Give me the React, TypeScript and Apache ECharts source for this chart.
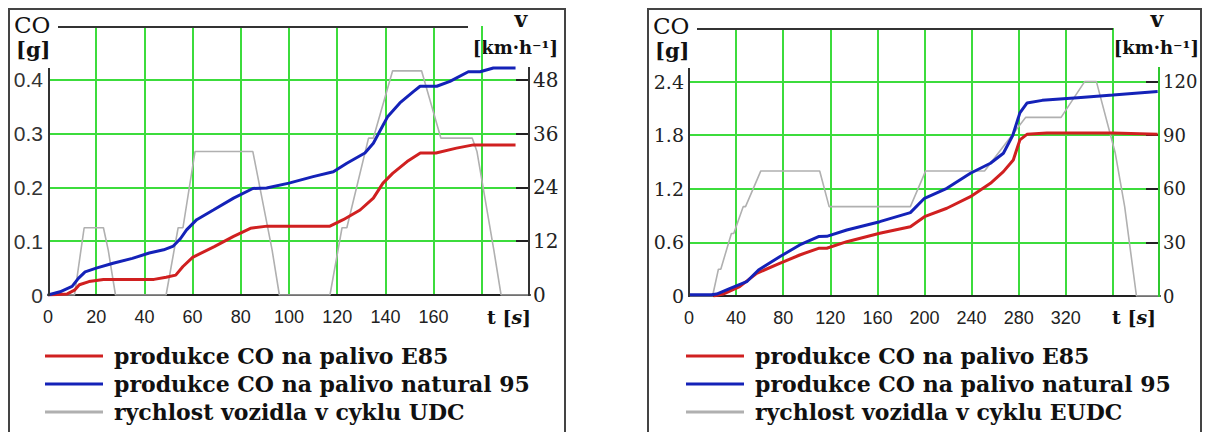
import React, { useEffect, useRef } from "react";
import * as echarts from "echarts";

// ---------- data: UDC (left chart) ----------
const udcTime = [0, 11, 15, 23, 25, 28, 49, 54, 56, 61, 85, 93, 96, 117, 122, 124, 133, 135, 143, 155, 163, 176, 178, 185, 188, 200];
const udcSpeed = [0, 0, 15, 15, 10, 0, 0, 15, 15, 32, 32, 10, 0, 0, 15, 15, 35, 35, 50, 50, 35, 35, 32, 10, 0, 0];

const udcE85Time = [0, 8, 11, 13, 17, 23, 30, 44, 49, 53, 56, 60, 69, 77, 84, 91, 117, 122.5, 129.5, 135, 139, 143, 149, 154.5, 161, 169.5, 176.5, 194];
const udcE85CO = [0, 0.002, 0.009, 0.019, 0.025, 0.029, 0.029, 0.029, 0.033, 0.037, 0.053, 0.07, 0.09, 0.109, 0.124, 0.128, 0.128, 0.14, 0.158, 0.18, 0.208, 0.226, 0.248, 0.264, 0.264, 0.273, 0.279, 0.279];

const udcN95Time = [0, 5, 10, 12.6, 15.4, 20, 27, 35, 42, 48, 52, 55, 57.5, 61.7, 68.6, 77, 85, 90.7, 100, 110, 118.4, 124, 131.5, 135, 138, 141, 146, 151.6, 154.4, 161.3, 166.8, 174.4, 179.3, 184.8, 194];
const udcN95CO = [0, 0.006, 0.016, 0.031, 0.043, 0.05, 0.059, 0.068, 0.078, 0.084, 0.091, 0.105, 0.121, 0.14, 0.158, 0.18, 0.198, 0.199, 0.208, 0.22, 0.229, 0.245, 0.264, 0.282, 0.307, 0.332, 0.357, 0.378, 0.388, 0.388, 0.397, 0.415, 0.415, 0.422, 0.422];

// ---------- data: EUDC (right chart) ----------
const eudcTime = [0, 20, 25, 27, 36, 38, 46, 48, 61, 111, 119, 188, 201, 251, 286, 316, 336, 346, 362, 370, 380, 400];
const eudcSpeed = [0, 0, 15, 15, 35, 35, 50, 50, 70, 70, 50, 50, 70, 70, 100, 100, 120, 120, 80, 50, 0, 0];

const eudcE85Time = [20.7, 29, 43, 57.5, 77, 94, 110, 117, 134, 162, 188, 200, 219, 239, 256, 267, 275.4, 281, 287, 304, 360, 398];
const eudcE85CO = [0, 0.022, 0.105, 0.254, 0.366, 0.459, 0.534, 0.534, 0.608, 0.702, 0.776, 0.888, 0.982, 1.112, 1.262, 1.392, 1.523, 1.747, 1.81, 1.825, 1.825, 1.81];

const eudcN95Time = [0, 19, 23.5, 35, 49, 59, 77, 94, 110, 117, 134, 162, 188, 200, 219, 239, 256, 267, 275, 281, 287, 300, 330, 360, 398];
const eudcN95CO = [0.015, 0.015, 0.022, 0.086, 0.16, 0.291, 0.44, 0.571, 0.665, 0.668, 0.739, 0.832, 0.933, 1.094, 1.206, 1.374, 1.486, 1.598, 1.8, 2.05, 2.16, 2.19, 2.22, 2.25, 2.29];

// ---------- labels ----------
const nameE85 = "produkce CO na palivo E85";
const nameN95 = "produkce CO na palivo natural 95";
const nameUDC = "rychlost vozidla v cyklu UDC";
const nameEUDC = "rychlost vozidla v cyklu EUDC";

const zip = (a: number[], b: number[]) => a.map((v, i) => [v, b[i]]);

const GREEN = "#3cdc3c";
const RED = "#d02020";
const BLUE = "#1422b8";
const GRAY = "#b0b0b0";
const SERIF = "DejaVu Serif";
const SANS = "Liberation Sans";

export default function App() {
  const ref = useRef<HTMLDivElement>(null);
  useEffect(() => {
    document.body.style.margin = "0";
    const chart = echarts.init(ref.current!, null, { renderer: "svg" });

    const xAxisBase = (grid: number, max: number, step: number, lastLabel: number) => ({
      type: "value",
      gridIndex: grid,
      min: 0,
      max,
      interval: step,
      axisLine: { show: true, lineStyle: { color: "#222", width: 2 } },
      axisTick: { show: false },
      splitLine: { show: true, showMinLine: false, showMaxLine: false, lineStyle: { color: GREEN, width: 2 } },
      axisLabel: {
        fontFamily: SANS,
        fontSize: 18,
        color: "#222",
        margin: 13,
        formatter: (v: number) => (v <= lastLabel ? String(v) : ""),
      },
    });

    const legendBase = (left: number, data: string[]) => ({
      data,
      orient: "vertical",
      left,
      top: 337,
      height: 140,
      itemGap: 0,
      itemWidth: 58,
      itemHeight: 3,
      icon: "rect",
      selectedMode: false,
      textStyle: { fontFamily: SERIF, fontWeight: "bold", fontSize: 22, lineHeight: 28, color: "#111", padding: [0, 0, 0, 6] },
    });

    const labelText = (x: number, y: number, text: string, size: number, bold: boolean, align = "left") => ({
      type: "text", x, y,
      style: { text, fontFamily: SERIF, fontSize: size, fontWeight: bold ? "bold" : "normal", fill: "#111", align },
    });

    const unitT = (x: number) => ({
      type: "text", x, y: 307,
      style: {
        text: "{b|t [}{i|s}{b|]}",
        rich: {
          b: { fontFamily: SERIF, fontWeight: "bold", fontSize: 19, fill: "#111" },
          i: { fontFamily: SERIF, fontWeight: "bold", fontStyle: "italic", fontSize: 19, fill: "#111" },
        },
      },
    });

    const option = {
      animation: false,
      grid: [
        { left: 48, right: 677, top: 26, bottom: 137 },
        { left: 689, right: 47, top: 28, bottom: 136 },
      ],
      xAxis: [xAxisBase(0, 200, 20, 160), xAxisBase(1, 400, 40, 320)],
      yAxis: [
        {
          type: "value", gridIndex: 0, min: 0, max: 0.5, interval: 0.1,
          axisLine: { show: false }, axisTick: { show: false },
          splitLine: { show: true, showMinLine: false, showMaxLine: false, lineStyle: { color: GREEN, width: 2 } },
          axisLabel: { fontFamily: SANS, fontSize: 21, color: "#333", margin: 5, formatter: (v: number) => (v > 0.45 ? "" : String(v)) },
        },
        {
          type: "value", gridIndex: 0, position: "right", min: 0, max: 60, interval: 12,
          axisLine: { show: false },
          axisTick: { show: true, inside: true, length: 14, lineStyle: { color: "#222", width: 2 }, customValues: [0, 12, 24, 36, 48] },
          splitLine: { show: false },
          axisLabel: { fontFamily: SERIF, fontSize: 20, color: "#222", margin: 3, formatter: (v: number) => (v > 50 ? "" : String(v)) },
        },
        {
          type: "value", gridIndex: 1, min: 0, max: 3, interval: 0.6,
          axisLine: { show: false }, axisTick: { show: false },
          splitLine: { show: true, showMinLine: false, showMaxLine: false, lineStyle: { color: GREEN, width: 2 } },
          axisLabel: { fontFamily: SERIF, fontSize: 19, color: "#222", margin: 5, formatter: (v: number) => (v > 2.5 ? "" : String(v)) },
        },
        {
          type: "value", gridIndex: 1, position: "right", min: 0, max: 150, interval: 30,
          axisLine: { show: false },
          axisTick: { show: true, inside: true, length: 14, lineStyle: { color: "#222", width: 2 }, customValues: [0, 30, 60, 90, 120] },
          splitLine: { show: false },
          axisLabel: { fontFamily: SERIF, fontSize: 18, color: "#222", margin: 3, formatter: (v: number) => (v > 125 ? "" : String(v)) },
        },
      ],
      legend: [legendBase(40, [nameE85, nameN95, nameUDC]), legendBase(681, [nameE85, nameN95, nameEUDC])],
      series: [
        { name: nameUDC, type: "line", xAxisIndex: 0, yAxisIndex: 1, data: zip(udcTime, udcSpeed), showSymbol: false, color: GRAY, lineStyle: { color: GRAY, width: 1.6 } },
        { name: nameE85, type: "line", xAxisIndex: 0, yAxisIndex: 0, data: zip(udcE85Time, udcE85CO), showSymbol: false, color: RED, lineStyle: { color: RED, width: 3 } },
        { name: nameN95, type: "line", xAxisIndex: 0, yAxisIndex: 0, data: zip(udcN95Time, udcN95CO), showSymbol: false, color: BLUE, lineStyle: { color: BLUE, width: 3 } },
        { name: nameEUDC, type: "line", xAxisIndex: 1, yAxisIndex: 3, data: zip(eudcTime, eudcSpeed), showSymbol: false, color: GRAY, lineStyle: { color: GRAY, width: 1.6 } },
        { name: nameE85, type: "line", xAxisIndex: 1, yAxisIndex: 2, data: zip(eudcE85Time, eudcE85CO), showSymbol: false, color: RED, lineStyle: { color: RED, width: 3 } },
        { name: nameN95, type: "line", xAxisIndex: 1, yAxisIndex: 2, data: zip(eudcN95Time, eudcN95CO), showSymbol: false, color: BLUE, lineStyle: { color: BLUE, width: 3 } },
      ],
      graphic: {
        elements: [
          // frames
          { type: "rect", shape: { x: 9, y: 9, width: 556, height: 440 }, style: { fill: "none", stroke: "#444", lineWidth: 2 }, z: 0 },
          { type: "rect", shape: { x: 648, y: 9, width: 553, height: 440 }, style: { fill: "none", stroke: "#444", lineWidth: 2 }, z: 0 },
          // left chart decorations
          { type: "line", shape: { x1: 58, y1: 27, x2: 468, y2: 27 }, style: { stroke: "#333", lineWidth: 2 }, z: 10 },
          { type: "line", shape: { x1: 49, y1: 68, x2: 49, y2: 296 }, style: { stroke: "#333", lineWidth: 2 }, z: 10 },
          { type: "line", shape: { x1: 529, y1: 67, x2: 529, y2: 296 }, style: { stroke: "#333", lineWidth: 2 }, z: 10 },
          labelText(14, 13, "CO", 23, false),
          labelText(16, 39, "[g]", 21, true),
          labelText(521, 8, "v", 22, true, "center"),
          labelText(558, 38, "[km·h⁻¹]", 18, true, "right"),
          unitT(487),
          // right chart decorations
          { type: "line", shape: { x1: 697, y1: 29, x2: 1113, y2: 29 }, style: { stroke: "#333", lineWidth: 2 }, z: 10 },
          { type: "line", shape: { x1: 689, y1: 68, x2: 689, y2: 297 }, style: { stroke: "#333", lineWidth: 2 }, z: 10 },
          { type: "line", shape: { x1: 1159, y1: 67, x2: 1159, y2: 297 }, style: { stroke: "#2fc82f", lineWidth: 2 }, z: 10 },
          labelText(653, 14, "CO", 23, false),
          labelText(655, 40, "[g]", 21, true),
          labelText(1157, 8, "v", 22, true, "center"),
          labelText(1199, 38, "[km·h⁻¹]", 18, true, "right"),
          unitT(1112),
        ],
      },
    };
    chart.setOption(option as any);
    return () => chart.dispose();
  }, []);
  return <div ref={ref} style={{ width: 1207, height: 432 }} />;
}
